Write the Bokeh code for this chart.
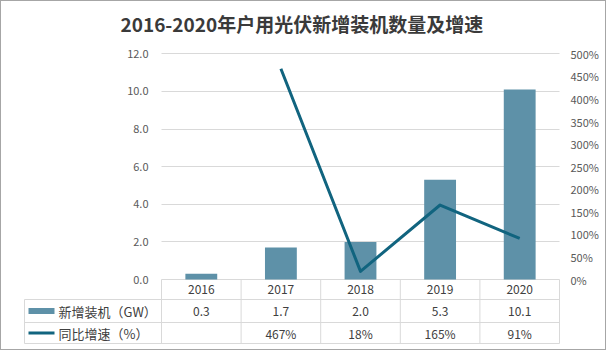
from bokeh.plotting import figure
from bokeh.models import Range1d, LinearAxis, FixedTicker, PrintfTickFormatter, Label
from bokeh.core.properties import value
from bokeh.embed import file_html
from bokeh.resources import INLINE

# ---------------- data ----------------
years = ["2016", "2017", "2018", "2019", "2020"]
capacity_gw = [0.3, 1.7, 2.0, 5.3, 10.1]
growth_years = ["2017", "2018", "2019", "2020"]
growth_pct = [467, 18, 165, 91]
left_ticks = [0, 2, 4, 6, 8, 10, 12]
right_ticks = [0, 50, 100, 150, 200, 250, 300, 350, 400, 450, 500]
title_text = "2016-2020年户用光伏新增装机数量及增速"
series_bar_name = "新增装机（GW）"
series_line_name = "同比增速（%）"

# ---------------- style / layout ----------------
FONT = "Noto Sans CJK SC"
BAR = "#5E91A8"
LINE = "#11647F"
GRID = "#D9D9D9"
AXIS_TXT = "#595959"
TBL_TXT = "#404040"

W, H = 606, 350                 # inside a 1px css border
FR_L, FR_R, FR_T, FR_B = 21, 559, 0, 345   # frame in figure pixels
X0_PX, X5_PX = 160, 558          # plot area (categories) left/right
Y0_PX, Y12_PX = 278, 52.3        # value 0 and 12 in figure pixels
UNIT_X = (X5_PX - X0_PX) / len(years)
UNIT_Y = (Y0_PX - Y12_PX) / 12


def px_to_x(px):
    return (px - X0_PX) / UNIT_X


def py_to_y(py):
    return (Y0_PX - py) / UNIT_Y


y_lo, y_hi = py_to_y(FR_B), py_to_y(FR_T)

p = figure(width=W, height=H,
           x_range=Range1d(px_to_x(FR_L), px_to_x(FR_R)),
           y_range=Range1d(y_lo, y_hi),
           x_axis_location=None,
           min_border_left=FR_L, min_border_right=W - FR_R,
           min_border_top=FR_T, min_border_bottom=H - FR_B,
           toolbar_location=None, output_backend="svg",
           styles={"border": "1px solid #A6A6A6"})
p.outline_line_color = None
p.title.text = ""
p.title.standoff = 0
p.title.text_font_size = "0px"
p.extra_y_ranges = {"pct": Range1d(y_lo * 500 / 12, y_hi * 500 / 12)}

# chart title, centred in the band above the plot area
title = Label(x=px_to_x(119), y=py_to_y(21.5), text=title_text,
              text_font=FONT, text_font_size="19px", text_font_style="bold",
              text_color="#3A3A3A", text_align="left", text_baseline="middle")
p.add_layout(title)

# grid
p.xgrid.grid_line_color = None
p.ygrid.ticker = FixedTicker(ticks=left_ticks)
p.ygrid.grid_line_color = GRID
try:
    p.ygrid.cross_bounds = (0, len(years))
    grid_fallback = False
except AttributeError:
    p.ygrid.grid_line_color = None
    grid_fallback = True
if grid_fallback:
    p.segment(x0=[0] * len(left_ticks), x1=[len(years)] * len(left_ticks),
              y0=left_ticks, y1=left_ticks, line_color=GRID, line_width=1)

# left axis (labels pulled in to sit left of the plot area)
ya = p.yaxis[0]
ya.ticker = FixedTicker(ticks=left_ticks)
ya.formatter = PrintfTickFormatter(format="%.1f")
ya.axis_line_color = None
ya.major_tick_line_color = None
ya.minor_tick_line_color = None
ya.major_tick_out = 0
ya.major_tick_in = 0
ya.major_label_standoff = -(147 - FR_L)
ya.major_label_text_font = FONT
ya.major_label_text_font_size = "11px"
ya.major_label_text_color = AXIS_TXT

# right axis
ra = LinearAxis(y_range_name="pct", ticker=FixedTicker(ticks=right_ticks),
                formatter=PrintfTickFormatter(format="%d%%"))
ra.axis_line_color = None
ra.major_tick_line_color = None
ra.minor_tick_line_color = None
ra.major_tick_out = 0
ra.major_tick_in = 0
ra.major_label_standoff = 10
ra.major_label_text_font = FONT
ra.major_label_text_font_size = "11px"
ra.major_label_text_color = AXIS_TXT
p.add_layout(ra, "right")

n = len(years)
xc = [i + 0.5 for i in range(n)]
gx = [years.index(g) + 0.5 for g in growth_years]

p.vbar(x=xc, top=capacity_gw, width=0.4, fill_color=BAR, line_color=None)
p.line(x=gx, y=growth_pct, y_range_name="pct",
       line_color=LINE, line_width=3, line_join="round")

# ---------------- data table ----------------
rows_px = [Y0_PX, 298, 321, 342]
rows = [py_to_y(v) for v in rows_px]
centers = [(rows[i] + rows[i + 1]) / 2 for i in range(3)]
tbl_left = px_to_x(23)

p.segment(x0=[tbl_left] * 3, x1=[n] * 3, y0=rows[1:], y1=rows[1:],
          line_color=GRID, line_width=1)
p.segment(x0=list(range(n + 1)), x1=list(range(n + 1)),
          y0=[rows[0]] * (n + 1), y1=[rows[3]] * (n + 1),
          line_color=GRID, line_width=1)
p.segment(x0=[tbl_left], x1=[tbl_left], y0=[rows[1]], y1=[rows[3]],
          line_color=GRID, line_width=1)

txt_kw = dict(text_font=value(FONT), text_font_size="12px",
              text_color=TBL_TXT, text_align="center", text_baseline="middle")
p.text(x=xc, y=[centers[0]] * n, text=years, **txt_kw)
p.text(x=xc, y=[centers[1]] * n, text=[f"{v:.1f}" for v in capacity_gw], **txt_kw)
p.text(x=gx, y=[centers[2]] * len(gx), text=[f"{v}%" for v in growth_pct], **txt_kw)

# legend swatches & labels
p.rect(x=[px_to_x(40)], y=[centers[1]], width=26, height=6, width_units="screen",
       height_units="screen", fill_color=BAR, line_color=None)
p.segment(x0=[px_to_x(27)], x1=[px_to_x(53)], y0=[centers[2]], y1=[centers[2]],
          line_color=LINE, line_width=3)
p.text(x=[px_to_x(57)] * 2, y=[centers[1], centers[2]],
       text=[series_bar_name, series_line_name],
       text_font=value(FONT), text_font_size="13px", text_color=TBL_TXT,
       text_align="left", text_baseline="middle")

open("out.html", "w").write(file_html(p, INLINE))
